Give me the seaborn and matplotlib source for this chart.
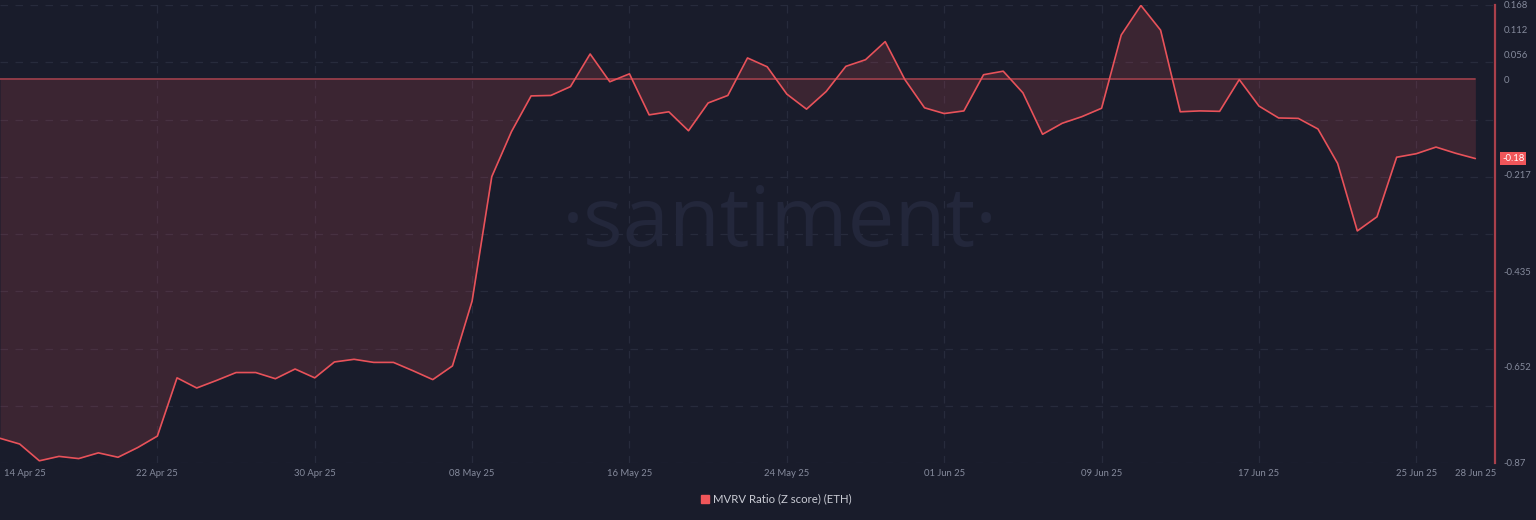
import numpy as np
import pandas as pd
import matplotlib.pyplot as plt
import matplotlib.dates as mdates
import matplotlib.transforms as mtransforms
from matplotlib.lines import Line2D
import seaborn as sns

# daily MVRV Z score (ETH), 14 Apr 25 .. 28 Jun 25
start_date = '2025-04-14'
end_date = '2025-06-28'
mvrv_z = [
    -0.814, -0.827, -0.865, -0.855, -0.860, -0.847, -0.857, -0.835, -0.809, -0.677,
    -0.700, -0.683, -0.665, -0.665, -0.679, -0.657, -0.677, -0.641, -0.635, -0.642,
    -0.642, -0.661, -0.681, -0.650, -0.503, -0.221, -0.119, -0.038, -0.037, -0.017,
    0.057, -0.006, 0.012, -0.081, -0.074, -0.117, -0.054, -0.037, 0.048, 0.028,
    -0.034, -0.068, -0.028, 0.029, 0.044, 0.085, -0.001, -0.065, -0.078, -0.072,
    0.010, 0.018, -0.031, -0.125, -0.100, -0.085, -0.066, 0.100, 0.167, 0.111,
    -0.074, -0.072, -0.073, -0.001, -0.061, -0.088, -0.089, -0.113, -0.191, -0.344,
    -0.312, -0.177, -0.169, -0.154, -0.168, -0.180,
]
x_ticks = ['2025-04-14', '2025-04-22', '2025-04-30', '2025-05-08', '2025-05-16',
           '2025-05-24', '2025-06-01', '2025-06-09', '2025-06-17', '2025-06-25',
           '2025-06-28']
y_ticks = [0.168, 0.112, 0.056, 0, -0.217, -0.435, -0.652, -0.87]
y_tick_labels = ['0.168', '0.112', '0.056', '0', '-0.217', '-0.435', '-0.652', '-0.87']
last_label = '-0.18'
series_name = 'MVRV Ratio (Z score) (ETH)'

bg = '#191c2b'
red = '#e8525a'
grid_c = '#272b3c'
tick_c = '#858a9c'

df = pd.DataFrame({'date': pd.date_range(start_date, end_date, freq='D'), 'z': mvrv_z})

sns.set_theme(style='dark', rc={'axes.facecolor': bg, 'figure.facecolor': bg})
plt.rcParams['font.family'] = ['Lato', 'DejaVu Sans']

fig = plt.figure(figsize=(15.36, 5.2), dpi=100)
ax = fig.add_axes([0, 1 - 463 / 520, 1495 / 1536, 458 / 520])

# watermark
fig.text(0.508, 0.567, '·santiment·', color='#23273b', fontsize=60,
         family='Open Sans', fontweight='normal', ha='center', va='center', zorder=0)

# dashed grid
for gy in np.linspace(-0.87, 0.168, 9):
    ax.axhline(gy, color=grid_c, lw=0.9, ls=(0, (6, 6)), zorder=1)
for d in x_ticks[1:-1]:
    ax.axvline(pd.Timestamp(d), color=grid_c, lw=0.9, ls=(0, (6, 6)), zorder=1)

ax.fill_between(df['date'], df['z'], 0, color=red, alpha=0.17, lw=0, zorder=2)
ax.plot([df['date'].iloc[0], df['date'].iloc[-1]], [0, 0], color='#8f3b47', lw=1.4, zorder=2)
sns.lineplot(data=df, x='date', y='z', ax=ax, color=red, lw=1.2, zorder=3)

ax.set_xlim(pd.Timestamp(start_date), pd.Timestamp(start_date) + pd.Timedelta(days=76))
ax.set_ylim(-0.87, 0.168)
ax.set_xlabel('')
ax.set_ylabel('')

ax.set_xticks([pd.Timestamp(d) for d in x_ticks])
ax.xaxis.set_major_formatter(mdates.DateFormatter('%d %b %y'))
ax.yaxis.tick_right()
ax.set_yticks(y_ticks)
ax.set_yticklabels(y_tick_labels)
ax.tick_params(axis='x', length=0, pad=4, labelsize=6.8, labelcolor=tick_c)
ax.tick_params(axis='y', length=0, pad=6, labelsize=6.8, labelcolor=tick_c)
ax.grid(False)

# first date label sits inside the left edge
first = ax.get_xticklabels()[0]
first.set_ha('left')
first.set_transform(first.get_transform() +
                    mtransforms.ScaledTranslation(4 / 100, 0, fig.dpi_scale_trans))

for s in ['top', 'left', 'bottom']:
    ax.spines[s].set_visible(False)
ax.spines['right'].set_color('#a9404b')
ax.spines['right'].set_linewidth(1.6)

ax.annotate(last_label, xy=(1.0, mvrv_z[-1]), xycoords=('axes fraction', 'data'),
            xytext=(5, 0), textcoords='offset points', ha='left', va='center',
            fontsize=6.8, color='white',
            bbox=dict(boxstyle='square,pad=0.2', fc='#f0565a', ec='none'))

handle = Line2D([], [], marker='s', ls='', color='#f0565a', markersize=6)
fig.legend(handles=[handle], labels=[series_name], loc='center',
           bbox_to_anchor=(0.505, 1 - 499 / 520), frameon=False, fontsize=8.2,
           labelcolor='#c9cbd4', handletextpad=0.2, handlelength=1.0)

fig.savefig('out.png', dpi=100, facecolor=bg)
